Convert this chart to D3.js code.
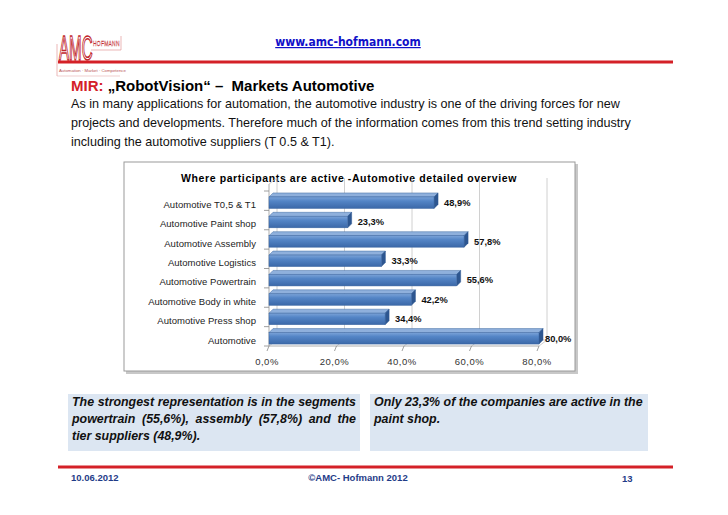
<!DOCTYPE html>
<html>
<head>
<meta charset="utf-8">
<script src="https://cdn.jsdelivr.net/npm/d3@7"></script>
<style>
  body { margin: 0; background: #fff; }
  text { font-family: "Liberation Sans", Arial, sans-serif; white-space: pre; }
</style>
</head>
<body>
<div id="slide"></div>
<script>
// chart data
var categories = ["Automotive T0,5 & T1", "Automotive Paint shop", "Automotive Assembly",
  "Automotive Logistics", "Automotive Powertrain", "Automotive Body in white",
  "Automotive Press shop", "Automotive"];
var values = [48.9, 23.3, 57.8, 33.3, 55.6, 42.2, 34.4, 80.0];
var xTicks = [0, 20, 40, 60, 80];

var introLines = [
  "As in many applications for automation, the automotive industry is one of the driving forces for new",
  "projects and developments. Therefore much of the information comes from this trend setting industry",
  "including the automotive suppliers (T 0.5 & T1)."
];
var leftNote = ["The strongest representation is in the segments",
  "powertrain (55,6%), assembly (57,8%) and the", "tier suppliers (48,9%)."];
var rightNote = ["Only 23,3% of the companies are active in the", "paint shop."];

var fmt = function (v) { return v.toFixed(1).replace(".", ",") + "%"; };

var svg = d3.select("#slide").append("svg")
  .attr("width", 728).attr("height", 515);

var defs = svg.append("defs");
var grad = defs.append("linearGradient").attr("id", "barGrad")
  .attr("x1", 0).attr("y1", 0).attr("x2", 0).attr("y2", 1);
grad.append("stop").attr("offset", "0%").attr("stop-color", "#7ba3d8");
grad.append("stop").attr("offset", "35%").attr("stop-color", "#5485c6");
grad.append("stop").attr("offset", "100%").attr("stop-color", "#3b68a8");

// ---- header / logo
var logo = svg.append("g");
logo.append("text").attr("transform", "translate(59,60) scale(0.42,1)")
  .style("font-size", "36px").style("fill", "#fff").style("stroke", "#c1272d")
  .style("stroke-width", 1.6).text("AMC");
logo.append("text").attr("transform", "translate(93,46) scale(0.62,1)")
  .style("font-size", "8px").style("fill", "#fff").style("stroke", "#c1272d").style("stroke-width", 0.4)
  .style("letter-spacing", "0.4px").text("HOFMANN");
logo.append("line").attr("x1", 91).attr("x2", 121).attr("y1", 50).attr("y2", 50)
  .style("stroke", "#d88").style("stroke-width", 0.6);
logo.append("line").attr("x1", 121).attr("x2", 121).attr("y1", 36).attr("y2", 50)
  .style("stroke", "#d88").style("stroke-width", 0.6);
logo.append("line").attr("x1", 57).attr("x2", 57).attr("y1", 44).attr("y2", 76)
  .style("stroke", "#d88").style("stroke-width", 0.6);
logo.append("line").attr("x1", 57).attr("x2", 120).attr("y1", 76).attr("y2", 76)
  .style("stroke", "#e5b0b0").style("stroke-width", 0.6);
logo.append("text").attr("x", 59).attr("y", 72)
  .style("font-size", "4.3px").style("fill", "#b55").text("Automation · Market · Competence");

svg.append("text").attr("x", 348).attr("y", 46).attr("text-anchor", "middle")
  .style("font-family", "'DejaVu Sans Condensed', 'Liberation Sans Narrow', sans-serif")
  .style("font-size", "12px").style("font-weight", "bold").style("fill", "#1010c8")
  .style("text-decoration", "underline").text("www.amc-hofmann.com");

svg.append("line").attr("x1", 58).attr("x2", 673).attr("y1", 62).attr("y2", 62)
  .style("stroke", "#d42027").style("stroke-width", 3);

var title = svg.append("text").attr("x", 71).attr("y", 91)
  .style("font-size", "15px").style("font-weight", "bold");
title.append("tspan").style("fill", "#d42027").text("MIR:");
title.append("tspan").style("fill", "#000").text(" \u201eRobotVision\u201c \u2013  Markets Automotive");

svg.append("g").selectAll("text").data(introLines).enter().append("text")
  .attr("x", 71).attr("y", function (d, i) { return 108 + i * 18.8; })
  .style("font-size", "12.6px").style("fill", "#111").text(function (d) { return d; });

// ---- chart frame
var frame = svg.append("g");
frame.append("rect").attr("x", 126).attr("y", 164).attr("width", 452).attr("height", 210)
  .style("fill", "#c8c8c8");
frame.append("rect").attr("x", 124).attr("y", 162).attr("width", 451).attr("height", 209)
  .style("fill", "#fff").style("stroke", "#9a9a9a").style("stroke-width", 1);

svg.append("text").attr("x", 349).attr("y", 182).attr("text-anchor", "middle")
  .style("font-size", "10.5px").style("font-weight", "bold").style("letter-spacing", "0.6px")
  .text("Where participants are active -Automotive detailed overview");

var dx = 8, dy = -6;   // 3-D depth of the back wall
var floorY = 346;
var x = d3.scaleLinear().domain([0, 80]).range([269, 539]);
var y = d3.scaleBand().domain(categories).range([191, floorY]).paddingInner(0.2).paddingOuter(0.1);

var grid = svg.append("g").style("stroke", "#c4c4c4").style("stroke-width", 0.8).style("fill", "none");
// back wall gridlines
grid.selectAll(".g").data(xTicks).enter().append("line")
  .attr("x1", function (d) { return x(d) + dx; }).attr("x2", function (d) { return x(d) + dx; })
  .attr("y1", 184 + dy).attr("y2", floorY + dy);
// floor diagonals
grid.selectAll(".f").data(xTicks).enter().append("line")
  .attr("x1", function (d) { return x(d); }).attr("y1", floorY)
  .attr("x2", function (d) { return x(d) + dx; }).attr("y2", floorY + dy);
grid.append("line").attr("x1", x(0) + dx).attr("x2", x(80) + dx).attr("y1", floorY + dy).attr("y2", floorY + dy);
// left wall
grid.append("line").attr("x1", x(0)).attr("x2", x(0)).attr("y1", 184).attr("y2", floorY)
  .style("stroke", "#999");
grid.append("line").attr("x1", x(0)).attr("x2", x(0) + dx).attr("y1", 184).attr("y2", 184 + dy);
grid.append("line").attr("x1", x(0)).attr("x2", x(80)).attr("y1", floorY).attr("y2", floorY)
  .style("stroke", "#999");

// ticks
var tickG = svg.append("g").style("stroke", "#888").style("stroke-width", 0.8);
var edges = categories.map(function (c) { return y(c) - y.step() * y.paddingInner() / 2; });
edges.push(floorY);
tickG.selectAll(".yt").data(edges).enter().append("line")
  .attr("x1", x(0) - 5).attr("x2", x(0)).attr("y1", function (d) { return d; }).attr("y2", function (d) { return d; });
tickG.selectAll(".xt").data(xTicks).enter().append("line")
  .attr("x1", function (d) { return x(d); }).attr("x2", function (d) { return x(d) - 2; })
  .attr("y1", floorY).attr("y2", floorY + 5);

// x labels
svg.append("g").selectAll("text").data(xTicks).enter().append("text")
  .attr("x", function (d) { return x(d) - 2; }).attr("y", 365).attr("text-anchor", "middle")
  .style("font-size", "9.5px").style("letter-spacing", "0.5px").style("fill", "#333")
  .text(function (d) { return d.toFixed(1).replace(".", ",") + "%"; });

// category labels
svg.append("g").selectAll("text").data(categories).enter().append("text")
  .attr("x", 256).attr("y", function (d) { return y(d) + 15; })
  .attr("text-anchor", "end")
  .style("font-size", "9.5px").style("letter-spacing", "0.05px").style("fill", "#222")
  .text(function (d) { return d; });

// bars (top + end + front face)
var bd = 4;
var bars = svg.append("g").selectAll("g").data(values).enter().append("g");
bars.append("path").attr("d", function (d, i) {
    var x0 = x(0), x1 = x(d), t = y(categories[i]) + bd;
    return "M" + x0 + "," + t + "L" + (x0 + bd) + "," + (t - bd) + "L" + (x1 + bd) + "," + (t - bd) + "L" + x1 + "," + t + "Z";
  }).style("fill", "#8fb0dc").style("stroke", "#3f6aa3").style("stroke-width", 0.5);
bars.append("path").attr("d", function (d, i) {
    var x1 = x(d), t = y(categories[i]) + bd, b = y(categories[i]) + y.bandwidth();
    return "M" + x1 + "," + t + "L" + (x1 + bd) + "," + (t - bd) + "L" + (x1 + bd) + "," + (b - bd) + "L" + x1 + "," + b + "Z";
  }).style("fill", "#2d5690").style("stroke", "#2d5690").style("stroke-width", 0.5);
bars.append("rect")
  .attr("x", x(0)).attr("y", function (d, i) { return y(categories[i]) + bd; })
  .attr("width", function (d) { return x(d) - x(0); })
  .attr("height", y.bandwidth() - bd)
  .style("fill", "url(#barGrad)").style("stroke", "#3a65a0").style("stroke-width", 0.5);

// value labels
svg.append("g").selectAll("text").data(values).enter().append("text")
  .attr("x", function (d) { return x(d) + (d >= 80 ? 6 : 10); })
  .attr("y", function (d, i) { return y(categories[i]) + 13; })
  .style("font-size", "9.3px").style("font-weight", "bold").style("fill", "#111")
  .text(function (d) { return fmt(d); });

// ---- notes
function noteBox(x0, w, lines, justifyCount) {
  var g = svg.append("g");
  g.append("rect").attr("x", x0).attr("y", 394).attr("width", w).attr("height", 57).style("fill", "#dce6f2");
  lines.forEach(function (line, i) {
    var ty = 406 + i * 17;
    if (i < justifyCount) {
      var words = line.split(" ");
      var ts = words.map(function (wd) {
        return g.append("text").attr("y", ty)
          .style("font-size", "12.4px").style("font-weight", "bold").style("font-style", "italic")
          .style("fill", "#111").text(wd);
      });
      var total = d3.sum(ts, function (t) { return t.node().getComputedTextLength(); });
      var gap = (w - 8 - total) / (words.length - 1);
      var cx = x0 + 4;
      ts.forEach(function (t) { t.attr("x", cx); cx += t.node().getComputedTextLength() + gap; });
    } else {
      g.append("text").attr("x", x0 + 4).attr("y", ty)
        .style("font-size", "12.4px").style("font-weight", "bold").style("font-style", "italic")
        .style("fill", "#111").text(line);
    }
  });
}
noteBox(68, 292, leftNote, 2);
noteBox(370, 278, rightNote, 0);

// ---- footer
svg.append("line").attr("x1", 58).attr("x2", 673).attr("y1", 467).attr("y2", 467)
  .style("stroke", "#d42027").style("stroke-width", 3);
var foot = svg.append("g").style("font-size", "9.5px").style("font-weight", "bold").style("fill", "#1f3c88");
foot.append("text").attr("x", 71).attr("y", 481).text("10.06.2012");
foot.append("text").attr("x", 358).attr("y", 481).attr("text-anchor", "middle").text("\u00a9AMC- Hofmann 2012");
foot.append("text").attr("x", 622).attr("y", 482).text("13");
</script>
</body>
</html>
